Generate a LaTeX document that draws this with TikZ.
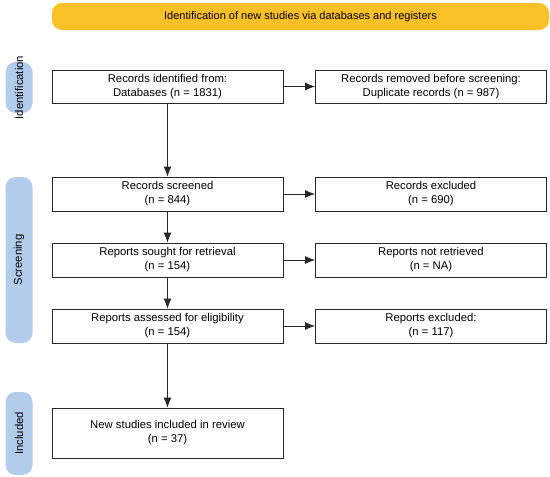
\documentclass[tikz,border=0pt]{standalone}
\usepackage{fontspec}
\setmainfont{Liberation Sans}
\usetikzlibrary{arrows.meta}
\definecolor{banner}{RGB}{250,192,40}
\definecolor{pill}{RGB}{180,204,236}
\definecolor{linec}{RGB}{40,40,40}
\begin{document}
\begin{tikzpicture}[x=1pt,y=-1pt,
  box/.style={draw=linec,line width=0.8pt,fill=white,minimum width=231pt,minimum height=34pt,inner sep=0pt,align=center,font=\fontsize{11.3}{14}\selectfont},
  pillbox/.style={fill=pill,rounded corners=10pt,minimum width=27pt,inner sep=0pt},
  pilltext/.style={rotate=90,font=\fontsize{11.3}{14}\selectfont,text=black},
  arr/.style={draw=linec,line width=0.8pt,-{Latex[length=10pt,width=8pt]}}]
\useasboundingbox (0,0) rectangle (550,477);
\node[fill=banner,rounded corners=10pt,minimum width=497pt,minimum height=27pt,inner sep=0pt,font=\fontsize{11}{13}\selectfont] (ban) at (300.5,16.5) {Identification of new studies via databases and registers};
\node[pillbox,minimum height=51pt] (p1) at (19,87.5) {};
\node[pilltext] (t1) at (p1) {Identification};
\node[pillbox,minimum height=166pt] (p2) at (19,260) {};
\node[pilltext] (t2) at (p2) {Screening};
\node[pillbox,minimum height=83pt] (p3) at (19,433.5) {};
\node[pilltext] (t3) at (p3) {Included};
\node[box,minimum height=33pt] (b1) at (167.5,86.5) {Records identified from:\\Databases (n = 1831)};
\node[box,minimum height=33pt] (r1) at (431,86.5) {Records removed before screening:\\Duplicate records (n = 987)};
\node[box] (b2) at (167.5,194) {Records screened\\(n = 844)};
\node[box] (r2) at (431,194) {Records excluded\\(n = 690)};
\node[box] (b3) at (167.5,260) {Reports sought for retrieval\\(n = 154)};
\node[box] (r3) at (431,260) {Reports not retrieved\\(n = NA)};
\node[box] (b4) at (167.5,326) {Reports assessed for eligibility\\(n = 154)};
\node[box] (r4) at (431,326) {Reports excluded:\\(n = 117)};
\node[box,minimum height=50pt] (b5) at (167.5,433) {New studies included in review\\(n = 37)};
\draw[arr] (b1) -- (r1);
\draw[arr] (b2) -- (r2);
\draw[arr] (b3) -- (r3);
\draw[arr] (b4) -- (r4);
\draw[arr] (b1) -- (b2);
\draw[arr] (b2) -- (b3);
\draw[arr] (b3) -- (b4);
\draw[arr] (b4) -- (b5);
\end{tikzpicture}
\end{document}
